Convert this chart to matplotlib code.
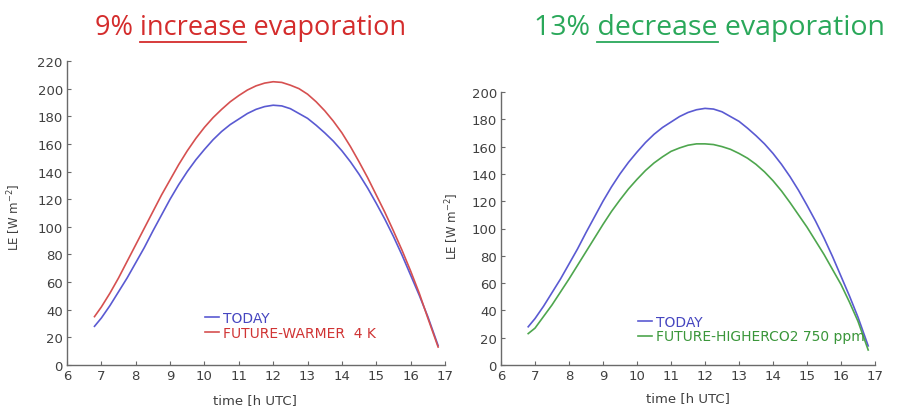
import matplotlib
matplotlib.use("Agg")
import matplotlib.pyplot as plt
from matplotlib.lines import Line2D

# ---- data ----
hours = [6.8, 7.0, 7.25, 7.5, 7.75, 8.0, 8.25, 8.5, 8.75, 9.0, 9.25, 9.5,
         9.75, 10.0, 10.25, 10.5, 10.75, 11.0, 11.25, 11.5, 11.75, 12.0,
         12.25, 12.5, 12.75, 13.0, 13.25, 13.5, 13.75, 14.0, 14.25, 14.5,
         14.75, 15.0, 15.25, 15.5, 15.75, 16.0, 16.25, 16.5, 16.8]
today = [28, 34, 43, 53, 63, 74, 85, 97, 108.5, 120, 130.5, 140,
         148.5, 156, 163, 169, 174, 178, 182, 185, 187, 188,
         187.5, 185.5, 182, 178.5, 173.5, 168, 162, 155, 147, 138,
         128, 117, 105.5, 93, 79.5, 65, 50.5, 35, 14]
future_warmer = [35, 42, 52, 63, 75, 87, 99, 111, 123, 134, 145, 155,
                 164, 172, 179, 185, 190.5, 195, 199, 202, 204, 205,
                 204.5, 202.5, 200, 196, 190.5, 184, 176.5, 168, 158, 147,
                 135.5, 123, 110.5, 97, 83, 68, 52, 34, 13]
future_highco2 = [23, 27, 35.5, 44, 53.5, 63, 73, 83, 93, 103, 112.5, 121,
                  129, 136, 142.5, 148, 152.5, 156.5, 159, 161, 162, 162,
                  161.5, 160, 158, 155, 151.5, 147, 141.5, 135, 127.5, 119,
                  110, 101, 91, 81, 70, 59, 46, 32, 11]

xticks = list(range(6, 18))
yticks_left = list(range(0, 221, 20))
yticks_right = list(range(0, 201, 20))

label_today = "TODAY"
label_warmer = "FUTURE-WARMER  4 K"
label_co2 = "FUTURE-HIGHERCO2 750 ppm"
title_left = ("9% ", "increase", " evaporation")
title_right = ("13% ", "decrease", " evaporation")

# ---- style ----
C_BLUE = "#5a5ad2"
C_RED = "#d65050"
C_GREEN = "#4ea64e"
C_BLUE_T = "#4646c0"
C_RED_T = "#d03434"
C_GREEN_T = "#3a963a"
C_TITLE_RED = "#d42c2c"
C_TITLE_GREEN = "#2aa85a"
C_AX = "#6a6a6a"
C_TXT = "#404040"

plt.rcParams["font.family"] = ["DejaVu Sans"]

W, H = 899, 410
fig = plt.figure(figsize=(W / 100, H / 100), dpi=100)

def px_axes(l, r, b, t):
    return fig.add_axes([l / W, 1 - b / H, (r - l) / W, (b - t) / H])

axL = px_axes(67, 445, 366, 62)
axR = px_axes(501, 875, 366, 93)

def style(ax, ymax, yticks):
    ax.set_xlim(6, 17)
    ax.set_ylim(0, ymax)
    ax.set_xticks(xticks)
    ax.set_yticks(yticks)
    for s in ("top", "right"):
        ax.spines[s].set_visible(False)
    for s in ("left", "bottom"):
        ax.spines[s].set_color(C_AX)
        ax.spines[s].set_linewidth(1.0)
    ax.tick_params(direction="in", length=3, width=0.8, color=C_AX,
                   labelsize=9.5, labelcolor=C_TXT, pad=3)
    ax.set_xlabel("time [h UTC]", fontsize=9.5, color=C_TXT)
    ax.set_ylabel("LE [W m$^{-2}$]", fontsize=8.5, color=C_TXT)

style(axL, 220, yticks_left)
style(axR, 200, yticks_right)

axL.plot(hours, today, color=C_BLUE, lw=1.2, label=label_today)
axL.plot(hours, future_warmer, color=C_RED, lw=1.2, label=label_warmer)
axR.plot(hours, today, color=C_BLUE, lw=1.2, label=label_today)
axR.plot(hours, future_highco2, color=C_GREEN, lw=1.2, label=label_co2)

axL.xaxis.set_label_coords(0.497, -0.093)
axR.xaxis.set_label_coords(0.5, -0.095)
axL.yaxis.set_label_coords(-0.116, 0.49)
axR.yaxis.set_label_coords(-0.107, 0.51)

def legend(ax, x, y, text_colors):
    leg = ax.legend(loc="upper left", bbox_to_anchor=(x, y), frameon=False,
                    fontsize=10, handlelength=1.0, handletextpad=0.3,
                    labelspacing=0.05, borderaxespad=0, borderpad=0)
    for t, c in zip(leg.get_texts(), text_colors):
        t.set_color(c)
    return leg

legend(axL, 0.365, 0.178, [C_BLUE_T, C_RED_T])
legend(axR, 0.366, 0.184, [C_BLUE_T, C_GREEN_T])

# ---- titles with underlined middle word ----
fig.canvas.draw()
renderer = fig.canvas.get_renderer()

def title(parts, x0_px, base_px, color, size):
    full = "".join(parts)
    kw = dict(fontsize=size, color=color, family=["Open Sans", "DejaVu Sans"],
              ha="left", va="baseline")
    t = fig.text(x0_px / W, 1 - base_px / H, full, **kw)
    pre = fig.text(x0_px / W, 1 - base_px / H, parts[0] + parts[1], alpha=0, **kw)
    word = fig.text(x0_px / W, 1 - base_px / H, parts[1], alpha=0, **kw)
    bb_pre = pre.get_window_extent(renderer)
    bb_word = word.get_window_extent(renderer)
    x_end = bb_pre.x1
    x_start = x_end - bb_word.width
    y_line = (H - base_px - 8) / H
    fig.add_artist(Line2D([x_start / W, x_end / W], [y_line, y_line],
                          transform=fig.transFigure, color=color, lw=1.3))
    return t

title(title_left, 95, 35, C_TITLE_RED, 19.5)
title(title_right, 534, 35, C_TITLE_GREEN, 20.5)

fig.savefig("out.png", dpi=100)
